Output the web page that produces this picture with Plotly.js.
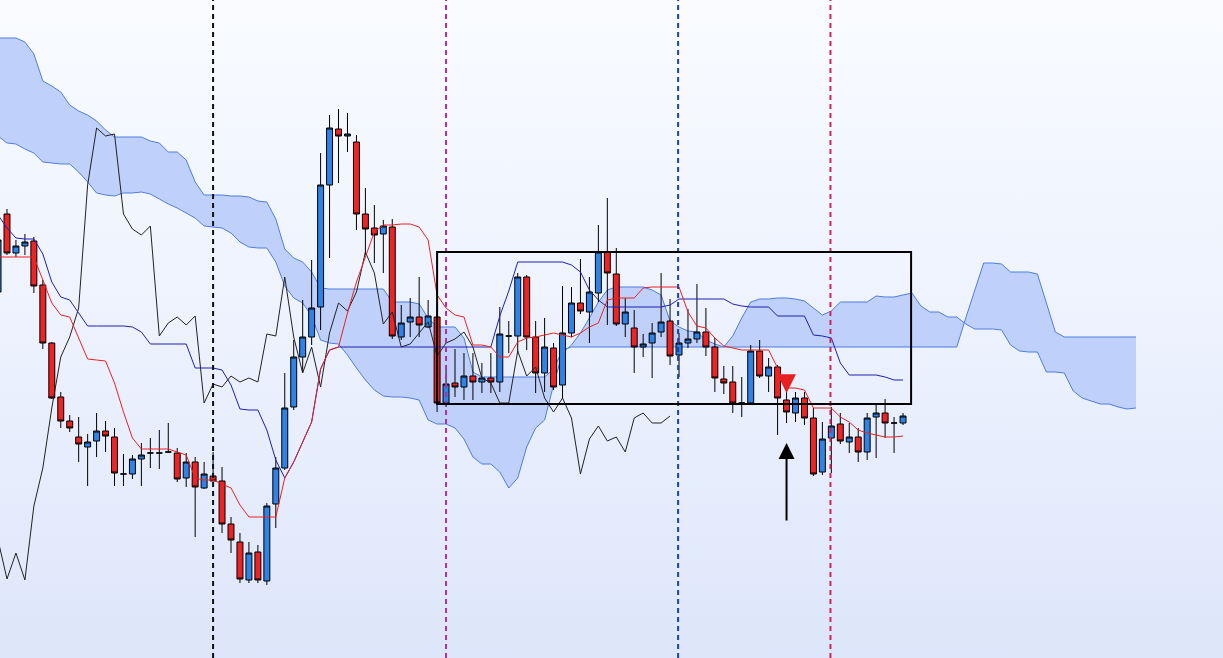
<!DOCTYPE html>
<html>
<head>
<meta charset="utf-8">
<script src="https://cdn.plot.ly/plotly-3.0.1.min.js"></script>
<style>
  html, body { margin: 0; padding: 0; }
  body { width: 1223px; height: 658px; background: linear-gradient(to bottom, #f9fbff 0%, #eef3fe 45%, #dde6fa 100%); }
  #chart { width: 1223px; height: 658px; }
</style>
</head>
<body>
<div id="chart"></div>
<script>
// ---- data (candle index -1 .. 100, prices in chart units) ----
const FIRST_INDEX = -1;
const SHIFT = 26;

const openP = [368,446,407,414,419,375,317,263,239,223,213,219,229,223,186,186,201,207,207,208,207,182,198,172,184,179,136,118,80,108,79,156,192,253,303,323,353,475,531,524,518,446,432,426,433,323,338,343,333,343,257,277,273,284,278,282,278,324,324,383,323,287,312,275,327,357,348,367,408,386,336,332,313,317,328,339,305,317,321,328,313,281,278,257,257,309,284,293,260,247,262,242,188,222,236,218,223,208,243,247,237,237];
const highP = [428,451,420,426,423,380,318,268,245,243,226,247,239,232,206,205,217,222,230,237,212,207,203,198,208,193,143,127,118,115,157,203,287,320,360,400,507,545,551,547,525,472,455,440,441,355,362,383,360,345,293,311,307,307,297,307,353,339,387,385,339,342,317,374,373,401,383,435,462,412,362,350,326,337,387,361,327,351,376,352,322,294,294,283,315,320,302,295,268,268,268,252,238,253,247,237,232,247,257,261,243,247];
const lowP  = [362,405,403,405,367,311,261,232,228,198,174,203,208,174,174,181,174,192,191,207,178,173,123,171,179,127,107,77,77,77,75,132,190,250,288,315,330,402,477,508,430,405,397,387,321,320,323,323,332,248,253,263,260,260,267,267,268,307,308,310,267,268,270,261,323,346,317,358,335,334,323,287,303,282,323,295,283,312,317,304,268,266,247,243,255,282,268,225,237,238,235,184,185,187,216,207,198,200,202,222,207,235];
const closeP= [420,407,414,418,374,317,262,239,232,216,218,229,224,187,186,201,205,207,207,208,181,198,173,186,179,136,120,81,107,80,154,192,252,303,323,352,475,532,524,526,446,431,425,434,324,337,343,335,344,257,276,273,284,278,282,278,326,324,383,323,287,313,273,327,357,349,368,408,387,336,348,313,316,327,338,304,317,321,328,313,282,277,257,257,309,284,293,262,248,262,242,186,221,234,219,223,208,242,247,237,237,244];

const tenkan = [403,403,403,403,403,380,357,345,343,322,301,300,299,277,248,222,211,211,211,211,208,205,182,180,180,176,172,155,143,143,143,143,182,198,218,238,291,310,313,347,378,403,428,435,435,436,436,433,420,365,352,345,343,315,315,313,303,303,318,322,323,325,327,325,323,327,333,337,360,362,362,362,372,373,373,373,373,348,334,332,322,314,312,310,310,310,310,292,272,272,270,252,252,252,243,238,230,227,225,223,223,224];
const kijun  = [445,432,422,421,421,406,378,363,360,347,334,334,334,334,334,333,328,316,316,316,316,316,292,292,292,290,275,251,250,250,230,200,182,198,218,238,291,310,313,313,313,313,313,313,313,313,313,313,313,313,313,313,313,313,313,313,344,369,398,398,398,398,398,398,395,388,370,360,353,353,353,353,353,353,353,355,361,361,361,361,361,361,356,354,353,353,353,344,344,344,344,325,324,322,297,285,285,285,285,283,280,280];

// leading spans, index -1 .. 126 (already drawn 26 bars ahead)
const spanA = [524,517,516,511,507,498,497,496,496,488,478,467,465,464,467,467,468,466,461,456,452,447,442,434,433,432,427,418,413,412,412,398,374,362,357,344,320,317,316,305,292,280,270,264,263,263,262,260,240,236,236,232,221,203,196,196,188,172,182,213,232,240,275,307,315,327,342,358,370,373,373,373,373,370,365,339,333,329,328,320,316,313,324,342,358,361,361,362,362,361,359,352,345,349,358,358,358,358,364,363,363,365,367,354,348,348,343,343,336,331,331,331,330,315,309,308,308,288,288,287,269,262,259,256,256,253,251,252];
const spanB = [622,622,622,618,606,579,574,568,555,549,545,539,530,523,523,523,523,519,517,508,508,500,478,465,465,465,464,464,463,459,458,441,411,402,398,388,372,371,371,371,371,371,371,371,358,358,358,356,342,333,333,333,322,288,283,283,283,283,283,283,283,283,291,310,313,313,313,313,313,313,313,313,313,313,313,313,313,313,313,313,313,313,313,313,313,313,313,313,313,313,313,313,313,313,313,313,313,313,313,313,313,313,313,313,313,313,313,313,342,370,397,397,396,388,388,388,386,357,328,323,323,323,323,323,323,323,323,323];

// annotations (candle index / price)
const eventLines = [
  {at: 23, color: '#111111'},
  {at: 49, color: '#b0309a'},
  {at: 74.9, color: '#1f3fae'},
  {at: 91.9, color: '#d0245a'}
];
const rangeBox = {x0: 48, x1: 100.9, y0: 256, y1: 408};
const upArrow = {x: 87, from: 138, to: 217};
const downMark = {x: 87, from: 285, to: 267};

// ---- build ----
const candleX = openP.map((_, k) => FIRST_INDEX + k);
const spanX = spanA.map((_, k) => FIRST_INDEX + k);
const chikouX = candleX.map(v => v - SHIFT);

const cloudLine = '#4f7de0';
const traces = [
  // cloud on the base axes (drawn underneath)
  {type: 'scatter', mode: 'lines', x: spanX, y: spanB, line: {color: cloudLine, width: 1}, hoverinfo: 'skip'},
  {type: 'scatter', mode: 'lines', x: spanX, y: spanA, fill: 'tonexty', fillcolor: '#bfd1fa', line: {color: cloudLine, width: 1}, hoverinfo: 'skip'},
  // price and lines on the overlay axes (drawn on top)
  {type: 'candlestick', xaxis: 'x2', yaxis: 'y2', x: candleX, open: openP, high: highP, low: lowP, close: closeP,
   increasing: {fillcolor: '#2f82e6', line: {color: '#000000', width: 1}},
   decreasing: {fillcolor: '#ee2424', line: {color: '#000000', width: 1}},
   whiskerwidth: 0, hoverinfo: 'skip'},
  {type: 'scatter', mode: 'lines', xaxis: 'x2', yaxis: 'y2', x: chikouX, y: closeP, line: {color: '#222222', width: 1}, hoverinfo: 'skip'},
  {type: 'scatter', mode: 'lines', xaxis: 'x2', yaxis: 'y2', x: candleX, y: kijun, line: {color: '#2020b0', width: 1}, hoverinfo: 'skip'},
  {type: 'scatter', mode: 'lines', xaxis: 'x2', yaxis: 'y2', x: candleX, y: tenkan, line: {color: '#ee2020', width: 1}, hoverinfo: 'skip'}
];

const shapes = eventLines.map(e => ({
  type: 'line', xref: 'x', yref: 'paper', x0: e.at, x1: e.at, y0: 0, y1: 1,
  line: {color: e.color, width: 2, dash: '5px,4px'}
}));
shapes.push({type: 'rect', xref: 'x', yref: 'y', x0: rangeBox.x0, x1: rangeBox.x1, y0: rangeBox.y0, y1: rangeBox.y1,
  line: {color: '#000000', width: 2}, fillcolor: 'rgba(0,0,0,0)'});

const annotations = [
  {x: upArrow.x, y: upArrow.to, ax: upArrow.x, ay: upArrow.from, xref: 'x', yref: 'y', axref: 'x', ayref: 'y',
   text: '', showarrow: true, arrowhead: 2, arrowsize: 1.6, arrowwidth: 2, arrowcolor: '#000000'},
  {x: downMark.x, y: downMark.to, ax: downMark.x, ay: downMark.from, xref: 'x', yref: 'y', axref: 'x', ayref: 'y',
   text: '', showarrow: true, arrowhead: 2, arrowsize: 0.75, arrowwidth: 5, arrowcolor: '#e82020'}
];

const xRange = [-0.78, 135.71];
const yRange = [2, 660];
const layout = {
  width: 1223, height: 658,
  margin: {l: 0, r: 0, t: 0, b: 0, pad: 0},
  paper_bgcolor: 'rgba(0,0,0,0)', plot_bgcolor: 'rgba(0,0,0,0)',
  showlegend: false,
  boxgap: 0.05,
  xaxis: {range: xRange, visible: false, showgrid: false, zeroline: false, rangeslider: {visible: false}, fixedrange: true},
  yaxis: {range: yRange, visible: false, showgrid: false, zeroline: false, fixedrange: true},
  xaxis2: {range: xRange, overlaying: 'x', visible: false, showgrid: false, zeroline: false, rangeslider: {visible: false}, fixedrange: true},
  yaxis2: {range: yRange, overlaying: 'y', visible: false, showgrid: false, zeroline: false, fixedrange: true},
  shapes: shapes,
  annotations: annotations
};

Plotly.newPlot('chart', traces, layout, {staticPlot: true, displayModeBar: false});
</script>
</body>
</html>
